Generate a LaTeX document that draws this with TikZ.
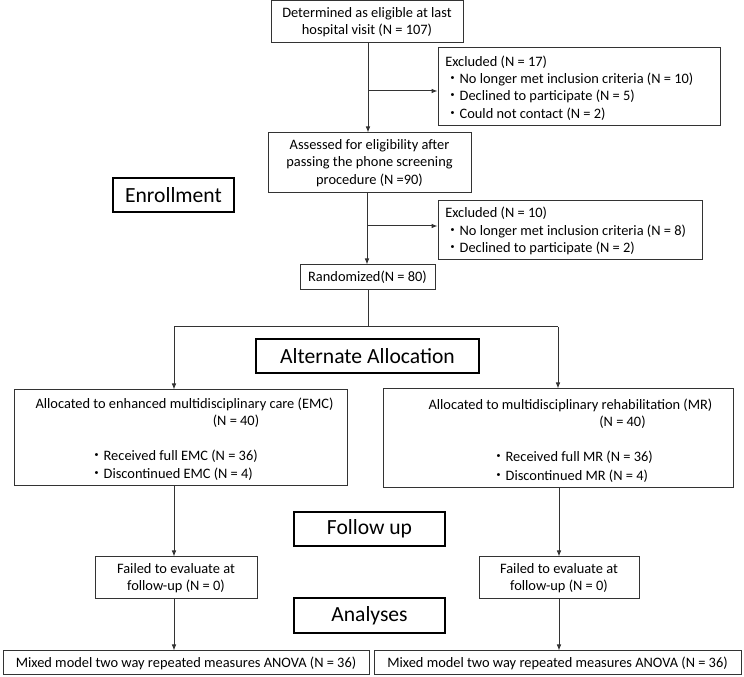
\documentclass[tikz,border=0pt]{standalone}
\usepackage{fontspec}
\setmainfont{Carlito}
\newfontfamily\cjk{Noto Sans CJK JP}
\usetikzlibrary{arrows.meta}
\newcommand\jdot{{\cjk ・}}
\begin{document}
\begin{tikzpicture}[x=0.75pt,y=-0.75pt,
  every node/.style={font=\fontsize{10.8pt}{13pt}\selectfont},
  box/.style={draw=black!80,line width=0.75pt,inner sep=0pt,align=center},
  hdr/.style={draw=black,line width=2.2pt,inner sep=0pt,font=\fontsize{16.2pt}{19pt}\selectfont},
  txt/.style={inner sep=0pt},
  arr/.style={draw=black!80,line width=0.75pt,-{Latex[length=4.5pt,width=3.5pt]}},
  ln/.style={draw=black!80,line width=0.75pt}]
\useasboundingbox (0,0) rectangle (744,677);
% enrollment chain
\node[box,minimum width=144pt,minimum height=31.5pt] (b1) at (367,22) {Determined as eligible at last\\hospital visit (N = 107)};
\node[box,minimum width=211.5pt,minimum height=58.5pt] (ex1) at (579,87) {};
\node[txt,anchor=west,align=left] (ex1t) at (445,88) {Excluded (N = 17)\\\jdot No longer met inclusion criteria (N = 10)\\\jdot Declined to participate (N = 5)\\\jdot Could not contact (N = 2)};
\node[box,minimum width=152.25pt,minimum height=45pt] (b2) at (369.5,163) {Assessed for eligibility after\\passing the phone screening\\procedure (N =90)};
\node[hdr,minimum width=90.75pt,minimum height=25.5pt] (enr) at (173.5,195) {Enrollment};
\node[box,minimum width=198pt,minimum height=44.25pt] (ex2) at (570,230.5) {};
\node[txt,anchor=west,align=left] (ex2t) at (445,231) {Excluded (N = 10)\\\jdot No longer met inclusion criteria (N = 8)\\\jdot Declined to participate (N = 2)};
\node[box,minimum width=101.25pt,minimum height=18.75pt] (rand) at (367.5,277.5) {Randomized(N = 80)};
\node[hdr,minimum width=167.25pt,minimum height=25.5pt] (alloc) at (367.5,356) {Alternate Allocation};
% allocation boxes
\node[box,minimum width=249.75pt,minimum height=72pt] (emc) at (180.5,438) {};
\node[txt] (emc1) at (184.5,404) {Allocated to enhanced multidisciplinary care (EMC)};
\node[txt] (emc2) at (236,421) {(N = 40)};
\node[txt,anchor=west] (emc3) at (89,456) {\jdot Received full EMC (N = 36)};
\node[txt,anchor=west] (emc4) at (89,474) {\jdot Discontinued EMC (N = 4)};
\node[box,minimum width=262.5pt,minimum height=74.25pt] (mr) at (558,438.5) {};
\node[txt] (mr1) at (570.5,405) {Allocated to multidisciplinary rehabilitation (MR)};
\node[txt] (mr2) at (622.5,422) {(N = 40)};
\node[txt,anchor=west] (mr3) at (491,457) {\jdot Received full MR (N = 36)};
\node[txt,anchor=west] (mr4) at (491,476) {\jdot Discontinued MR (N = 4)};
\node[hdr,minimum width=113.25pt,minimum height=25.5pt] (fu) at (369.5,529) {Follow up};
\node[box,minimum width=121.5pt,minimum height=31.5pt] (f1) at (176,578) {Failed to evaluate at\\follow-up (N = 0)};
\node[box,minimum width=120pt,minimum height=31.5pt] (f2) at (559,578) {Failed to evaluate at\\follow-up (N = 0)};
\node[hdr,minimum width=113.25pt,minimum height=26.25pt] (an) at (369.5,615.5) {Analyses};
\node[box,minimum width=274.5pt,minimum height=18pt] (a1) at (186,663) {Mixed model two way repeated measures ANOVA (N = 36)};
\node[box,minimum width=275.25pt,minimum height=18pt] (a2) at (557.5,663) {Mixed model two way repeated measures ANOVA (N = 36)};
% connectors
\coordinate (c1) at (368,43);
\coordinate (j1) at (368,91);
\draw[arr] (c1) -- (c1 |- b2.north);
\draw[arr] (j1) -- (j1 -| ex1.west);
\coordinate (c2) at (367,193);
\coordinate (j2) at (367,226);
\draw[arr] (c2) -- (c2 |- rand.north);
\draw[arr] (j2) -- (j2 -| ex2.west);
\coordinate (c3) at (368,290);
\coordinate (sp) at (368,327);
\coordinate (lc) at (174,327);
\coordinate (rc) at (558,327);
\draw[ln] (c3) -- (sp);
\draw[ln] (lc) -- (rc);
\draw[arr] (lc) -- (lc |- emc.north);
\draw[arr] (rc) -- (rc |- mr.north);
\coordinate (d1) at (174,486);
\coordinate (d2) at (559,488);
\draw[arr] (d1) -- (d1 |- f1.north);
\draw[arr] (d2) -- (d2 |- f2.north);
\coordinate (e1) at (174,599);
\coordinate (e2) at (559,599);
\draw[arr] (e1) -- (e1 |- a1.north);
\draw[arr] (e2) -- (e2 |- a2.north);
\end{tikzpicture}
\end{document}
